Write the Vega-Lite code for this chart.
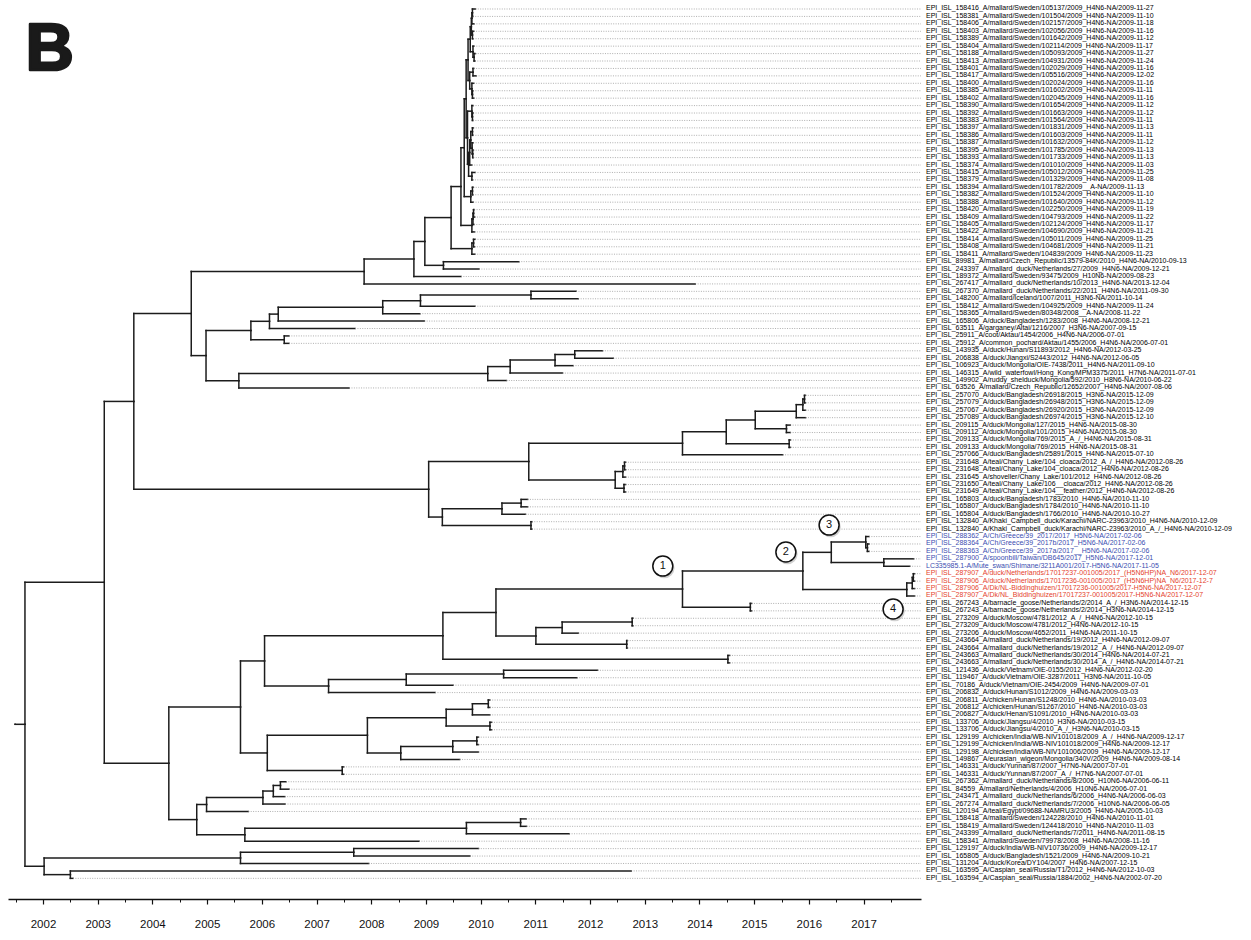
{
"$schema":"https://vega.github.io/schema/vega-lite/v6.json",
"width":913,"height":899,
"autosize":{"type":"none"},
"padding":{"left":8,"top":0,"right":330,"bottom":41},
"background":"white",
"config":{"view":{"stroke":null},"font":"Liberation Sans"},
"datasets":{
"nodes":[
{"id":"1","p":"n1_2","t":2009.904,"y":1,"g":"k","label":"EPI_ISL_158416_A/mallard/Sweden/105137/2009_H4N6-NA/2009-11-27"},
{"id":"2","p":"n1_2","t":2009.858,"y":2,"g":"k","label":"EPI_ISL_158381_A/mallard/Sweden/101504/2009_H4N6-NA/2009-11-10"},
{"id":"3","p":"n1_3","t":2009.879,"y":3,"g":"k","label":"EPI_ISL_158406_A/mallard/Sweden/102157/2009_H4N6-NA/2009-11-18"},
{"id":"4","p":"n4_5","t":2009.874,"y":4,"g":"k","label":"EPI_ISL_158403_A/mallard/Sweden/102056/2009_H4N6-NA/2009-11-16"},
{"id":"5","p":"n4_5","t":2009.863,"y":5,"g":"k","label":"EPI_ISL_158389_A/mallard/Sweden/101642/2009_H4N6-NA/2009-11-12"},
{"id":"6","p":"n6_8","t":2009.877,"y":6,"g":"k","label":"EPI_ISL_158404_A/mallard/Sweden/102114/2009_H4N6-NA/2009-11-17"},
{"id":"7","p":"n7_8","t":2009.904,"y":7,"g":"k","label":"EPI_ISL_158188_A/mallard/Sweden/105093/2009_H4N6-NA/2009-11-27"},
{"id":"8","p":"n7_8","t":2009.896,"y":8,"g":"k","label":"EPI_ISL_158413_A/mallard/Sweden/104931/2009_H4N6-NA/2009-11-24"},
{"id":"9","p":"n9_10","t":2009.874,"y":9,"g":"k","label":"EPI_ISL_158401_A/mallard/Sweden/102029/2009_H4N6-NA/2009-11-16"},
{"id":"10","p":"n9_10","t":2009.918,"y":10,"g":"k","label":"EPI_ISL_158417_A/mallard/Sweden/105516/2009_H4N6-NA/2009-12-02"},
{"id":"11","p":"n11_13","t":2009.874,"y":11,"g":"k","label":"EPI_ISL_158400_A/mallard/Sweden/102024/2009_H4N6-NA/2009-11-16"},
{"id":"12","p":"n12_13","t":2009.860,"y":12,"g":"k","label":"EPI_ISL_158385_A/mallard/Sweden/101602/2009_H4N6-NA/2009-11-11"},
{"id":"13","p":"n12_13","t":2009.874,"y":13,"g":"k","label":"EPI_ISL_158402_A/mallard/Sweden/102045/2009_H4N6-NA/2009-11-16"},
{"id":"14","p":"nC","t":2009.863,"y":14,"g":"k","label":"EPI_ISL_158390_A/mallard/Sweden/101654/2009_H4N6-NA/2009-11-12"},
{"id":"15","p":"n15_16","t":2009.863,"y":15,"g":"k","label":"EPI_ISL_158392_A/mallard/Sweden/101663/2009_H4N6-NA/2009-11-12"},
{"id":"16","p":"n15_16","t":2009.860,"y":16,"g":"k","label":"EPI_ISL_158383_A/mallard/Sweden/101564/2009_H4N6-NA/2009-11-11"},
{"id":"17","p":"n17_18","t":2009.866,"y":17,"g":"k","label":"EPI_ISL_158397_A/mallard/Sweden/101831/2009_H4N6-NA/2009-11-13"},
{"id":"18","p":"n17_18","t":2009.860,"y":18,"g":"k","label":"EPI_ISL_158386_A/mallard/Sweden/101603/2009_H4N6-NA/2009-11-11"},
{"id":"19","p":"n19_21","t":2009.863,"y":19,"g":"k","label":"EPI_ISL_158387_A/mallard/Sweden/101632/2009_H4N6-NA/2009-11-12"},
{"id":"20","p":"n20_21","t":2009.866,"y":20,"g":"k","label":"EPI_ISL_158395_A/mallard/Sweden/101785/2009_H4N6-NA/2009-11-13"},
{"id":"21","p":"n20_21","t":2009.866,"y":21,"g":"k","label":"EPI_ISL_158393_A/mallard/Sweden/101733/2009_H4N6-NA/2009-11-13"},
{"id":"22","p":"nD","t":2009.838,"y":22,"g":"k","label":"EPI_ISL_158374_A/mallard/Sweden/101010/2009_H4N6-NA/2009-11-03"},
{"id":"23","p":"nE","t":2009.899,"y":23,"g":"k","label":"EPI_ISL_158415_A/mallard/Sweden/105012/2009_H4N6-NA/2009-11-25"},
{"id":"24","p":"nE","t":2009.852,"y":24,"g":"k","label":"EPI_ISL_158379_A/mallard/Sweden/101329/2009_H4N6-NA/2009-11-08"},
{"id":"25","p":"n25_26","t":2009.866,"y":25,"g":"k","label":"EPI_ISL_158394_A/mallard/Sweden/101782/2009__A-NA/2009-11-13"},
{"id":"26","p":"n25_26","t":2009.858,"y":26,"g":"k","label":"EPI_ISL_158382_A/mallard/Sweden/101524/2009_H4N6-NA/2009-11-10"},
{"id":"27","p":"s10","t":2009.863,"y":27,"g":"k","label":"EPI_ISL_158388_A/mallard/Sweden/101640/2009_H4N6-NA/2009-11-12"},
{"id":"28","p":"n28_29","t":2009.882,"y":28,"g":"k","label":"EPI_ISL_158420_A/mallard/Sweden/102250/2009_H4N6-NA/2009-11-19"},
{"id":"29","p":"n28_29","t":2009.890,"y":29,"g":"k","label":"EPI_ISL_158409_A/mallard/Sweden/104793/2009_H4N6-NA/2009-11-22"},
{"id":"30","p":"n28_30","t":2009.877,"y":30,"g":"k","label":"EPI_ISL_158405_A/mallard/Sweden/102124/2009_H4N6-NA/2009-11-17"},
{"id":"31","p":"s8","t":2009.888,"y":31,"g":"k","label":"EPI_ISL_158422_A/mallard/Sweden/104690/2009_H4N6-NA/2009-11-21"},
{"id":"32","p":"n32_33","t":2009.899,"y":32,"g":"k","label":"EPI_ISL_158414_A/mallard/Sweden/105011/2009_H4N6-NA/2009-11-25"},
{"id":"33","p":"n32_33","t":2009.888,"y":33,"g":"k","label":"EPI_ISL_158408_A/mallard/Sweden/104681/2009_H4N6-NA/2009-11-21"},
{"id":"34","p":"s6","t":2009.893,"y":34,"g":"k","label":"EPI_ISL_158411_A/mallard/Sweden/104839/2009_H4N6-NA/2009-11-23"},
{"id":"35","p":"s3","t":2010.699,"y":35,"g":"k","label":"EPI_ISL_89981_A/mallard/Czech_Republic/13579-84K/2010_H4N6-NA/2010-09-13"},
{"id":"36","p":"s3","t":2009.970,"y":36,"g":"k","label":"EPI_ISL_243397_A/mallard_duck/Netherlands/27/2009_H4N6-NA/2009-12-21"},
{"id":"37","p":"s1","t":2009.641,"y":37,"g":"k","label":"EPI_ISL_189372_A/mallard/Sweden/93475/2009_H10N6-NA/2009-08-23"},
{"id":"38","p":"s0","t":2013.923,"y":38,"g":"k","label":"EPI_ISL_267417_A/mallard_duck/Netherlands/10/2013_H4N6-NA/2013-12-04"},
{"id":"39","p":"n39_40","t":2011.745,"y":39,"g":"k","label":"EPI_ISL_267370_A/mallard_duck/Netherlands/22/2011_H4N6-NA/2011-09-30"},
{"id":"40","p":"n39_40","t":2011.784,"y":40,"g":"k","label":"EPI_ISL_148200_A/mallard/Iceland/1007/2011_H3N6-NA/2011-10-14"},
{"id":"41","p":"nP1","t":2009.896,"y":41,"g":"k","label":"EPI_ISL_158412_A/mallard/Sweden/104925/2009_H4N6-NA/2009-11-24"},
{"id":"42","p":"nP2","t":2008.890,"y":42,"g":"k","label":"EPI_ISL_158365_A/mallard/Sweden/80348/2008__A-NA/2008-11-22"},
{"id":"43","p":"nP3","t":2008.970,"y":43,"g":"k","label":"EPI_ISL_165806_A/duck/Bangladesh/1283/2008_H4N6-NA/2008-12-21"},
{"id":"44","p":"nP4","t":2007.704,"y":44,"g":"k","label":"EPI_ISL_63511_A/garganey/Altai/1216/2007_H3N6-NA/2007-09-15"},
{"id":"45","p":"n45_46","t":2006.496,"y":45,"g":"k","label":"EPI_ISL_25911_A/coot/Aktau/1454/2006_H4N6-NA/2006-07-01"},
{"id":"46","p":"n45_46","t":2006.496,"y":46,"g":"k","label":"EPI_ISL_25912_A/common_pochard/Aktau/1455/2006_H4N6-NA/2006-07-01"},
{"id":"47","p":"n47_48","t":2012.227,"y":47,"g":"k","label":"EPI_ISL_143935_A/duck/Hunan/S11893/2012_H4N6-NA/2012-03-25"},
{"id":"48","p":"n47_48","t":2012.425,"y":48,"g":"k","label":"EPI_ISL_206838_A/duck/Jiangxi/S2443/2012_H4N6-NA/2012-06-05"},
{"id":"49","p":"nQ1","t":2011.690,"y":49,"g":"k","label":"EPI_ISL_106923_A/duck/Mongolia/OIE-7438/2011_H4N6-NA/2011-09-10"},
{"id":"50","p":"nQ2","t":2011.496,"y":50,"g":"k","label":"EPI_ISL_146315_A/wild_waterfowl/Hong_Kong/MPM3375/2011_H7N6-NA/2011-07-01"},
{"id":"51","p":"nQ3","t":2010.471,"y":51,"g":"k","label":"EPI_ISL_149902_A/ruddy_shelduck/Mongolia/592/2010_H8N6-NA/2010-06-22"},
{"id":"52","p":"nQ4","t":2007.595,"y":52,"g":"k","label":"EPI_ISL_63526_A/mallard/Czech_Republic/12652/2007_H4N6-NA/2007-08-06"},
{"id":"53","p":"n53_54","t":2015.937,"y":53,"g":"k","label":"EPI_ISL_257070_A/duck/Bangladesh/26918/2015_H3N6-NA/2015-12-09"},
{"id":"54","p":"n53_54","t":2015.937,"y":54,"g":"k","label":"EPI_ISL_257079_A/duck/Bangladesh/26948/2015_H3N6-NA/2015-12-09"},
{"id":"55","p":"n53_55","t":2015.937,"y":55,"g":"k","label":"EPI_ISL_257067_A/duck/Bangladesh/26920/2015_H3N6-NA/2015-12-09"},
{"id":"56","p":"nR1","t":2015.940,"y":56,"g":"k","label":"EPI_ISL_257089_A/duck/Bangladesh/26974/2015_H3N6-NA/2015-12-10"},
{"id":"57","p":"n57_58","t":2015.660,"y":57,"g":"k","label":"EPI_ISL_209115_A/duck/Mongolia/127/2015_H4N6-NA/2015-08-30"},
{"id":"58","p":"n57_58","t":2015.660,"y":58,"g":"k","label":"EPI_ISL_209112_A/duck/Mongolia/101/2015_H4N6-NA/2015-08-30"},
{"id":"59","p":"n59_60","t":2015.663,"y":59,"g":"k","label":"EPI_ISL_209133_A/duck/Mongolia/769/2015_A_/_H4N6-NA/2015-08-31"},
{"id":"60","p":"n59_60","t":2015.663,"y":60,"g":"k","label":"EPI_ISL_209133_A/duck/Mongolia/769/2015_H4N6-NA/2015-08-31"},
{"id":"61","p":"nR4","t":2015.521,"y":61,"g":"k","label":"EPI_ISL_257066_A/duck/Bangladesh/25891/2015_H4N6-NA/2015-07-10"},
{"id":"62","p":"n62_63","t":2012.649,"y":62,"g":"k","label":"EPI_ISL_231648_A/teal/Chany_Lake/104_cloaca/2012_A_/_H4N6-NA/2012-08-26"},
{"id":"63","p":"n62_63","t":2012.649,"y":63,"g":"k","label":"EPI_ISL_231648_A/teal/Chany_Lake/104_cloaca/2012_H4N6-NA/2012-08-26"},
{"id":"64","p":"n62_64","t":2012.649,"y":64,"g":"k","label":"EPI_ISL_231645_A/shoveller/Chany_Lake/101/2012_H4N6-NA/2012-08-26"},
{"id":"65","p":"n65_66","t":2012.649,"y":65,"g":"k","label":"EPI_ISL_231650_A/teal/Chany_Lake/106__cloaca/2012_H4N6-NA/2012-08-26"},
{"id":"66","p":"n65_66","t":2012.649,"y":66,"g":"k","label":"EPI_ISL_231649_A/teal/Chany_Lake/104__feather/2012_H4N6-NA/2012-08-26"},
{"id":"67","p":"n67_68","t":2010.858,"y":67,"g":"k","label":"EPI_ISL_165803_A/duck/Bangladesh/1783/2010_H4N6-NA/2010-11-10"},
{"id":"68","p":"n67_68","t":2010.858,"y":68,"g":"k","label":"EPI_ISL_165807_A/duck/Bangladesh/1784/2010_H4N6-NA/2010-11-10"},
{"id":"69","p":"nR7","t":2010.819,"y":69,"g":"k","label":"EPI_ISL_165804_A/duck/Bangladesh/1766/2010_H4N6-NA/2010-10-27"},
{"id":"70","p":"n70_71","t":2010.937,"y":70,"g":"k","label":"EPI_ISL_132840_A/Khaki_Campbell_duck/Karachi/NARC-23963/2010_H4N6-NA/2010-12-09"},
{"id":"71","p":"n70_71","t":2010.937,"y":71,"g":"k","label":"EPI_ISL_132840_A/Khaki_Campbell_duck/Karachi/NARC-23963/2010_A_/_H4N6-NA/2010-12-09"},
{"id":"72","p":"nG","t":2017.099,"y":72,"g":"b","label":"EPI_ISL_288362_A/Ch/Greece/39_2017/2017_H5N6-NA/2017-02-06"},
{"id":"73","p":"n73_74","t":2017.099,"y":73,"g":"b","label":"EPI_ISL_288364_A/Ch/Greece/39_2017b/2017_H5N6-NA/2017-02-06"},
{"id":"74","p":"n73_74","t":2017.099,"y":74,"g":"b","label":"EPI_ISL_288363_A/Ch/Greece/39_2017a/2017__H5N6-NA/2017-02-06"},
{"id":"75","p":"n75_76","t":2017.915,"y":75,"g":"b","label":"EPI_ISL_287900_A/spoonbill/Taiwan/DB645/2017_H5N6-NA/2017-12-01"},
{"id":"76","p":"n75_76","t":2017.844,"y":76,"g":"b","label":"LC335985.1-A/Mute_swan/Shimane/3211A001/2017-H5N6-NA/2017-11-05"},
{"id":"77","p":"n77_78","t":2017.932,"y":77,"g":"r","label":"EPI_ISL_287907_A/duck/Netherlands/17017237-001005/2017_(H5N6HP)NA_N6/2017-12-07"},
{"id":"78","p":"n77_78","t":2017.932,"y":78,"g":"r","label":"EPI_ISL_287906_A/duck/Netherlands/17017236-001005/2017_(H5N6HP)NA_N6/2017-12-7"},
{"id":"79","p":"n77_79","t":2017.932,"y":79,"g":"r","label":"EPI_ISL_287906_A/Dk/NL-Biddinghuizen/17017236-001005/2017-H5N6-NA/2017-12-07"},
{"id":"80","p":"nRed","t":2017.932,"y":80,"g":"r","label":"EPI_ISL_287907_A/Dk/NL_Biddinghuizen/17017237-001005/2017-H5N6-NA/2017-12-07"},
{"id":"81","p":"n81_82","t":2014.953,"y":81,"g":"k","label":"EPI_ISL_267243_A/barnacle_goose/Netherlands/2/2014_A_/_H3N6-NA/2014-12-15"},
{"id":"82","p":"n81_82","t":2014.953,"y":82,"g":"k","label":"EPI_ISL_267243_A/barnacle_goose/Netherlands/2/2014_H3N6-NA/2014-12-15"},
{"id":"83","p":"n83_84","t":2012.786,"y":83,"g":"k","label":"EPI_ISL_273209_A/duck/Moscow/4781/2012_A_/_H4N6-NA/2012-10-15"},
{"id":"84","p":"n83_84","t":2012.786,"y":84,"g":"k","label":"EPI_ISL_273209_A/duck/Moscow/4781/2012_H4N6-NA/2012-10-15"},
{"id":"85","p":"nT1","t":2011.786,"y":85,"g":"k","label":"EPI_ISL_273206_A/duck/Moscow/4652/2011_H4N6-NA/2011-10-15"},
{"id":"86","p":"n86_87","t":2012.682,"y":86,"g":"k","label":"EPI_ISL_243664_A/mallard_duck/Netherlands/19/2012_H4N6-NA/2012-09-07"},
{"id":"87","p":"n86_87","t":2012.682,"y":87,"g":"k","label":"EPI_ISL_243664_A/mallard_duck/Netherlands/19/2012_A_/_H4N6-NA/2012-09-07"},
{"id":"88","p":"n88_89","t":2014.551,"y":88,"g":"k","label":"EPI_ISL_243663_A/mallard_duck/Netherlands/30/2014_H4N6-NA/2014-07-21"},
{"id":"89","p":"n88_89","t":2014.551,"y":89,"g":"k","label":"EPI_ISL_243663_A/mallard_duck/Netherlands/30/2014_A_/_H4N6-NA/2014-07-21"},
{"id":"90","p":"n90_91","t":2012.137,"y":90,"g":"k","label":"EPI_ISL_121436_A/duck/Vietnam/OIE-0155/2012_H4N6-NA/2012-02-20"},
{"id":"91","p":"n90_91","t":2011.759,"y":91,"g":"k","label":"EPI_ISL_119467_A/duck/Vietnam/OIE-3287/2011_H3N6-NA/2011-10-05"},
{"id":"92","p":"nU1","t":2009.496,"y":92,"g":"k","label":"EPI_ISL_70186_A/duck/Vietnam/OIE-2454/2009_H4N6-NA/2009-07-01"},
{"id":"93","p":"nU2","t":2009.167,"y":93,"g":"k","label":"EPI_ISL_206832_A/duck/Hunan/S1012/2009_H4N6-NA/2009-03-03"},
{"id":"94","p":"n94_95","t":2010.167,"y":94,"g":"k","label":"EPI_ISL_206811_A/chicken/Hunan/S1248/2010_H4N6-NA/2010-03-03"},
{"id":"95","p":"n94_95","t":2010.167,"y":95,"g":"k","label":"EPI_ISL_206812_A/chicken/Hunan/S1267/2010_H4N6-NA/2010-03-03"},
{"id":"96","p":"nV1","t":2010.167,"y":96,"g":"k","label":"EPI_ISL_206827_A/duck/Henan/S1091/2010_H4N6-NA/2010-03-03"},
{"id":"97","p":"n97_98","t":2010.200,"y":97,"g":"k","label":"EPI_ISL_133706_A/duck/Jiangsu/4/2010_H3N6-NA/2010-03-15"},
{"id":"98","p":"n97_98","t":2010.200,"y":98,"g":"k","label":"EPI_ISL_133706_A/duck/Jiangsu/4/2010_A_/_H3N6-NA/2010-03-15"},
{"id":"99","p":"n99_100","t":2009.959,"y":99,"g":"k","label":"EPI_ISL_129199_A/chicken/India/WB-NIV101018/2009_A_/_H4N6-NA/2009-12-17"},
{"id":"100","p":"n99_100","t":2009.959,"y":100,"g":"k","label":"EPI_ISL_129199_A/chicken/India/WB-NIV101018/2009_H4N6-NA/2009-12-17"},
{"id":"101","p":"nV3","t":2009.959,"y":101,"g":"k","label":"EPI_ISL_129198_A/chicken/India/WB-NIV101006/2009_H4N6-NA/2009-12-17"},
{"id":"102","p":"nV4","t":2009.616,"y":102,"g":"k","label":"EPI_ISL_149867_A/eurasian_wigeon/Mongolia/340V/2009_H4N6-NA/2009-08-14"},
{"id":"103","p":"n103_104","t":2007.496,"y":103,"g":"k","label":"EPI_ISL_146331_A/duck/Yunnan/87/2007_H7N6-NA/2007-07-01"},
{"id":"104","p":"n103_104","t":2007.496,"y":104,"g":"k","label":"EPI_ISL_146331_A/duck/Yunnan/87/2007_A_/_H7N6-NA/2007-07-01"},
{"id":"105","p":"n105_106","t":2006.441,"y":105,"g":"k","label":"EPI_ISL_267362_A/mallard_duck/Netherlands/8/2006_H10N6-NA/2006-06-11"},
{"id":"106","p":"n105_106","t":2006.496,"y":106,"g":"k","label":"EPI_ISL_84559_A/mallard/Netherlands/4/2006_H10N6-NA/2006-07-01"},
{"id":"107","p":"nW1","t":2006.419,"y":107,"g":"k","label":"EPI_ISL_243471_A/mallard_duck/Netherlands/6/2006_H4N6-NA/2006-06-03"},
{"id":"108","p":"nW2","t":2006.425,"y":108,"g":"k","label":"EPI_ISL_267274_A/mallard_duck/Netherlands/7/2006_H10N6-NA/2006-06-05"},
{"id":"109","p":"nW3","t":2005.753,"y":109,"g":"k","label":"EPI_ISL_120194_A/teal/Egypt/09688-NAMRU3/2005_H4N6-NA/2005-10-03"},
{"id":"110","p":"n110_111","t":2010.833,"y":110,"g":"k","label":"EPI_ISL_158418_A/mallard/Sweden/124228/2010_H4N6-NA/2010-11-01"},
{"id":"111","p":"n110_111","t":2010.838,"y":111,"g":"k","label":"EPI_ISL_158419_A/mallard/Sweden/124418/2010_H4N6-NA/2010-11-03"},
{"id":"112","p":"nX1","t":2011.619,"y":112,"g":"k","label":"EPI_ISL_243399_A/mallard_duck/Netherlands/7/2011_H4N6-NA/2011-08-15"},
{"id":"113","p":"nX2","t":2008.874,"y":113,"g":"k","label":"EPI_ISL_158341_A/mallard/Sweden/79978/2008_H4N6-NA/2008-11-16"},
{"id":"114","p":"n114_115","t":2009.959,"y":114,"g":"k","label":"EPI_ISL_129197_A/duck/India/WB-NIV10736/2009_H4N6-NA/2009-12-17"},
{"id":"115","p":"n114_115","t":2009.803,"y":115,"g":"k","label":"EPI_ISL_165805_A/duck/Bangladesh/1521/2009_H4N6-NA/2009-10-21"},
{"id":"116","p":"nZ1","t":2007.953,"y":116,"g":"k","label":"EPI_ISL_131204_A/duck/Korea/DY104/2007_H4N6-NA/2007-12-15"},
{"id":"117","p":"nZ2","t":2012.753,"y":117,"g":"k","label":"EPI_ISL_163595_A/Caspian_seal/Russia/T1/2012_H4N6-NA/2012-10-03"},
{"id":"118","p":"nZ2","t":2002.548,"y":118,"g":"k","label":"EPI_ISL_163594_A/Caspian_seal/Russia/1884/2002_H4N6-NA/2002-07-20"},
{"id":"n1_2","p":"n1_3","t":2009.85,"y":1.5},
{"id":"n1_3","p":"n1_5","t":2009.84,"y":2.25},
{"id":"n4_5","p":"n1_5","t":2009.85,"y":4.5},
{"id":"n1_5","p":"sA","t":2009.83,"y":3.375},
{"id":"n7_8","p":"n6_8","t":2009.88,"y":7.5},
{"id":"n6_8","p":"sA","t":2009.86,"y":6.75},
{"id":"sA","p":"s11","t":2009.81,"y":5.0625},
{"id":"n9_10","p":"sB","t":2009.86,"y":9.5},
{"id":"n12_13","p":"n11_13","t":2009.85,"y":12.5},
{"id":"n11_13","p":"sB","t":2009.84,"y":11.75},
{"id":"sB","p":"s11","t":2009.80,"y":10.625},
{"id":"s11","p":"s9","t":2009.77,"y":7.844},
{"id":"n15_16","p":"nC","t":2009.85,"y":15.5},
{"id":"nC","p":"s12","t":2009.84,"y":14.75},
{"id":"n17_18","p":"nD1","t":2009.85,"y":17.5},
{"id":"n20_21","p":"n19_21","t":2009.855,"y":20.5},
{"id":"n19_21","p":"nD1","t":2009.845,"y":19.75},
{"id":"nD1","p":"nD","t":2009.82,"y":18.625},
{"id":"nD","p":"s13","t":2009.80,"y":20.3125},
{"id":"nE","p":"s13","t":2009.84,"y":23.5},
{"id":"s13","p":"s12","t":2009.78,"y":21.906},
{"id":"s12","p":"s9","t":2009.76,"y":18.328},
{"id":"s9","p":"s7","t":2009.735,"y":13.086},
{"id":"n25_26","p":"s10","t":2009.85,"y":25.5},
{"id":"s10","p":"s7","t":2009.82,"y":26.25},
{"id":"s7","p":"s5","t":2009.70,"y":19.668},
{"id":"n28_29","p":"n28_30","t":2009.87,"y":28.5},
{"id":"n28_30","p":"s8","t":2009.86,"y":29.25},
{"id":"s8","p":"s5","t":2009.84,"y":30.125},
{"id":"s5","p":"s4","t":2009.64,"y":24.896},
{"id":"n32_33","p":"s6","t":2009.87,"y":32.5},
{"id":"s6","p":"s4","t":2009.84,"y":33.25},
{"id":"s4","p":"s2","t":2009.46,"y":29.073},
{"id":"s3","p":"s2","t":2009.32,"y":35.5},
{"id":"s2","p":"s1","t":2008.98,"y":32.287},
{"id":"s1","p":"s0","t":2008.78,"y":34.643},
{"id":"s0","p":"nM","t":2007.87,"y":36.322},
{"id":"n39_40","p":"nP1","t":2010.92,"y":39.5},
{"id":"nP1","p":"nP2","t":2008.90,"y":40.25},
{"id":"nP2","p":"nP3","t":2008.21,"y":41.125},
{"id":"nP3","p":"nP4","t":2006.30,"y":42.063},
{"id":"nP4","p":"nP5","t":2006.14,"y":43.031},
{"id":"n45_46","p":"nP5","t":2006.41,"y":45.5},
{"id":"nP5","p":"nPQ","t":2005.80,"y":44.266},
{"id":"n47_48","p":"nQ1","t":2011.72,"y":47.5},
{"id":"nQ1","p":"nQ2","t":2011.36,"y":48.25},
{"id":"nQ2","p":"nQ3","t":2010.54,"y":49.125},
{"id":"nQ3","p":"nQ4","t":2010.13,"y":50.063},
{"id":"nQ4","p":"nPQ","t":2005.58,"y":51.031},
{"id":"nPQ","p":"nM","t":2004.98,"y":47.648},
{"id":"nM","p":"nA1","t":2004.71,"y":41.985},
{"id":"n53_54","p":"n53_55","t":2015.92,"y":53.5},
{"id":"n53_55","p":"nR1","t":2015.89,"y":54.25},
{"id":"nR1","p":"nR2","t":2015.77,"y":55.125},
{"id":"n57_58","p":"nR2","t":2015.59,"y":57.5},
{"id":"nR2","p":"nR3","t":2015.02,"y":56.313},
{"id":"n59_60","p":"nR3","t":2015.64,"y":59.5},
{"id":"nR3","p":"nR4","t":2014.49,"y":57.906},
{"id":"nR4","p":"nR6","t":2013.69,"y":59.453},
{"id":"n62_63","p":"n62_64","t":2012.63,"y":62.5},
{"id":"n62_64","p":"nR5","t":2012.60,"y":63.25},
{"id":"n65_66","p":"nR5","t":2012.62,"y":65.5},
{"id":"nR5","p":"nR6","t":2012.46,"y":64.375},
{"id":"nR6","p":"nR9","t":2010.88,"y":61.914},
{"id":"n67_68","p":"nR7","t":2010.74,"y":67.5},
{"id":"nR7","p":"nR8","t":2010.39,"y":68.25},
{"id":"n70_71","p":"nR8","t":2010.92,"y":70.5},
{"id":"nR8","p":"nR9","t":2009.30,"y":69.375},
{"id":"nR9","p":"nA1","t":2009.05,"y":65.645},
{"id":"nA1","p":"nA","t":2003.66,"y":53.815},
{"id":"n73_74","p":"nG","t":2017.07,"y":73.5},
{"id":"nG","p":"nC3","t":2017.04,"y":72.75},
{"id":"n75_76","p":"nC3","t":2017.37,"y":75.5},
{"id":"nC3","p":"nC2","t":2016.41,"y":74.125},
{"id":"n77_78","p":"n77_79","t":2017.91,"y":77.5},
{"id":"n77_79","p":"nRed","t":2017.89,"y":78.25},
{"id":"nRed","p":"nC2","t":2017.79,"y":79.125},
{"id":"nC2","p":"nC1","t":2015.89,"y":76.625},
{"id":"n81_82","p":"nC1","t":2014.93,"y":81.5},
{"id":"nC1","p":"nT3","t":2013.69,"y":79.063},
{"id":"n83_84","p":"nT1","t":2012.77,"y":83.5},
{"id":"nT1","p":"nT2","t":2011.49,"y":84.25},
{"id":"n86_87","p":"nT2","t":2012.67,"y":86.5},
{"id":"nT2","p":"nT3","t":2011.01,"y":85.375},
{"id":"nT3","p":"nT4","t":2010.28,"y":82.219},
{"id":"n88_89","p":"nT4","t":2014.52,"y":88.5},
{"id":"nT4","p":"nT5","t":2009.31,"y":85.359},
{"id":"n90_91","p":"nU1","t":2010.42,"y":90.5},
{"id":"nU1","p":"nU2","t":2008.64,"y":91.25},
{"id":"nU2","p":"nT5","t":2007.22,"y":92.125},
{"id":"nT5","p":"nA2a","t":2006.05,"y":88.742},
{"id":"n94_95","p":"nV1","t":2010.14,"y":94.5},
{"id":"nV1","p":"nV2","t":2009.85,"y":95.25},
{"id":"n97_98","p":"nV2","t":2010.17,"y":97.5},
{"id":"nV2","p":"nV5","t":2009.37,"y":96.375},
{"id":"n99_100","p":"nV3","t":2009.93,"y":99.5},
{"id":"nV3","p":"nV4","t":2009.49,"y":100.25},
{"id":"nV4","p":"nV5","t":2008.54,"y":101.125},
{"id":"nV5","p":"nV6","t":2007.93,"y":98.75},
{"id":"n103_104","p":"nV6","t":2007.47,"y":103.5},
{"id":"nV6","p":"nA2a","t":2006.10,"y":101.125},
{"id":"nA2a","p":"nA2","t":2005.61,"y":94.934},
{"id":"n105_106","p":"nW1","t":2006.34,"y":105.5},
{"id":"nW1","p":"nW2","t":2006.21,"y":106.25},
{"id":"nW2","p":"nW3","t":2006.02,"y":107.125},
{"id":"nW3","p":"nA2b","t":2004.99,"y":108.063},
{"id":"n110_111","p":"nX1","t":2010.73,"y":110.5},
{"id":"nX1","p":"nX2","t":2009.74,"y":111.25},
{"id":"nX2","p":"nA2b","t":2005.69,"y":112.125},
{"id":"nA2b","p":"nA2","t":2004.81,"y":110.094},
{"id":"nA2","p":"nA","t":2004.30,"y":102.514},
{"id":"nA","p":"root","t":2003.12,"y":78.164},
{"id":"n114_115","p":"nZ1","t":2007.68,"y":114.5},
{"id":"nZ1","p":"nZ","t":2005.61,"y":115.25},
{"id":"nZ2","p":"nZ","t":2002.50,"y":117.5},
{"id":"nZ","p":"root","t":2002.02,"y":116.375},
{"id":"root","p":"stub","t":2001.67,"y":97.27},
{"id":"stub","t":2001.49,"y":97.27}
],
"notes":[
{"n":"1","t":2013.33,"y":75.97},
{"n":"2","t":2015.58,"y":74.08},
{"n":"3","t":2016.37,"y":70.45},
{"n":"4","t":2017.54,"y":81.75}
]
},
"data":{"name":"nodes"},
"layer":[
{
"transform":[{"lookup":"p","from":{"data":{"name":"nodes"},"key":"id","fields":["t","y"]},"as":["pt","py"]},{"filter":"isValid(datum.pt)"}],
"mark":{"type":"rule","color":"#1c1c1c","strokeWidth":1.5,"strokeCap":"square"},
"encoding":{
"x":{"field":"pt","type":"quantitative","scale":{"domain":[2001.36,2018.05],"nice":false,"zero":false},
"axis":{"orient":"bottom","values":[2002,2003,2004,2005,2006,2007,2008,2009,2010,2011,2012,2013,2014,2015,2016,2017],"format":"d","title":null,"grid":false,"domainColor":"#111","domainWidth":1.5,"tickColor":"#111","tickWidth":1.2,"tickSize":5,"labelFontSize":11.5,"labelColor":"#111","labelFont":"Liberation Sans","labelPadding":14,"labelFlush":false,"labelOverlap":false}},
"x2":{"field":"t"},
"y":{"field":"y","type":"quantitative","scale":{"domain":[-0.211,120.78],"reverse":true,"nice":false,"zero":false},"axis":null}
}
},
{
"transform":[{"lookup":"p","from":{"data":{"name":"nodes"},"key":"id","fields":["t","y"]},"as":["pt","py"]},{"filter":"isValid(datum.pt)"}],
"mark":{"type":"rule","color":"#1c1c1c","strokeWidth":1.5,"strokeCap":"square"},
"encoding":{
"x":{"field":"pt","type":"quantitative","axis":null},
"y":{"field":"py","type":"quantitative","axis":null},
"y2":{"field":"y"}
}
},
{
"transform":[{"filter":"isValid(datum.label)"}],
"mark":{"type":"rule","color":"#9a9a9a","strokeWidth":0.8,"strokeDash":[1,1.4]},
"encoding":{
"x":{"field":"t","type":"quantitative","axis":{"orient":"bottom","values":[2001.5,2002.5,2003.5,2004.5,2005.5,2006.5,2007.5,2008.5,2009.5,2010.5,2011.5,2012.5,2013.5,2014.5,2015.5,2016.5,2017.5],"labels":false,"domain":false,"title":null,"grid":false,"tickSize":3,"tickColor":"#111","tickWidth":1}},
"x2":{"datum":2018.05},
"y":{"field":"y","type":"quantitative","axis":null}
}
},
{
"transform":[{"filter":"isValid(datum.label)"}],
"mark":{"type":"text","align":"left","baseline":"middle","dx":5,"dy":-0.5,"fontSize":7,"font":"Liberation Sans"},
"encoding":{
"x":{"datum":2018.05,"type":"quantitative","axis":null},
"y":{"field":"y","type":"quantitative","axis":null},
"text":{"field":"label"},
"color":{"field":"g","type":"nominal","scale":{"domain":["k","b","r"],"range":["#000000","#3b4db0","#e5432d"]},"legend":null}
}
},
{
"data":{"name":"notes"},
"mark":{"type":"point","shape":"circle","filled":true,"fill":"#9a9a9a","opacity":0.45,"size":420,"strokeWidth":0,"xOffset":1.5,"yOffset":2},
"encoding":{
"x":{"field":"t","type":"quantitative","axis":null},
"y":{"field":"y","type":"quantitative","axis":null}
}
},
{
"data":{"name":"notes"},
"mark":{"type":"point","shape":"circle","filled":true,"fill":"white","stroke":"#111","strokeWidth":1.5,"opacity":1,"size":400},
"encoding":{
"x":{"field":"t","type":"quantitative","axis":null},
"y":{"field":"y","type":"quantitative","axis":null}
}
},
{
"data":{"name":"notes"},
"mark":{"type":"text","align":"center","baseline":"middle","fontSize":11,"font":"Liberation Sans","color":"#111"},
"encoding":{
"x":{"field":"t","type":"quantitative","axis":null},
"y":{"field":"y","type":"quantitative","axis":null},
"text":{"field":"n"}
}
},
{
"data":{"values":[{"s":"B"}]},
"mark":{"type":"text","align":"left","baseline":"alphabetic","fontSize":67,"fontWeight":"bold","font":"Liberation Sans","color":"#1a1a1a","stroke":"#1a1a1a","strokeWidth":2.5,"strokeJoin":"round"},
"encoding":{
"x":{"datum":2001.68,"type":"quantitative","axis":null},
"y":{"datum":9.15,"type":"quantitative","axis":null},
"text":{"field":"s"}
}
}
],
"resolve":{"axis":{"x":"independent"}}
}
